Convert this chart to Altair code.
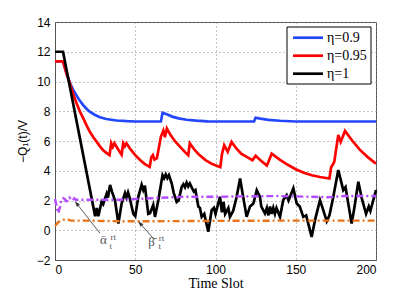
import altair as alt
import pandas as pd

series_names = ["η=0.9", "η=0.95", "η=1"]
series_colors = ["#2346ff", "#ff0000", "#000000"]

blue_t = [0, 5, 7, 9.3, 11.5, 13.5, 15.5, 17.7, 19.8, 21.8, 25, 28, 32, 38.4, 45, 50, 66, 67, 70, 73, 77, 82, 88, 95, 124, 125, 128, 133, 140, 150, 200]
blue_v = [11.35, 11.35, 10.6, 9.9, 9.4, 9.05, 8.7, 8.4, 8.15, 7.95, 7.75, 7.6, 7.48, 7.38, 7.33, 7.31, 7.31, 7.9, 7.78, 7.64, 7.52, 7.43, 7.37, 7.32, 7.31, 7.56, 7.5, 7.42, 7.36, 7.31, 7.31]

red_t = [0, 5, 7, 9.3, 11.5, 13.5, 15.5, 17.7, 19.8, 21.8, 24, 26, 28, 30, 32, 34, 35, 36, 37, 39, 41.5, 42.5, 43.5, 44.5, 47, 50, 53, 56, 59, 60, 61, 62, 63.5, 66, 67.5, 68.5, 69.7, 72, 75, 78, 81, 83, 84, 87, 90, 94, 98, 103, 104, 105.4, 107.6, 110, 113, 116, 120, 123, 124, 125, 128, 132, 133, 135, 140, 145, 150, 155, 160, 165, 171, 172, 173, 174, 176.5, 178, 180.7, 185, 190, 195, 200]
red_v = [11.35, 11.35, 10.6, 9.86, 9.1, 8.52, 7.98, 7.5, 7.02, 6.6, 6.24, 5.94, 5.64, 5.38, 5.2, 5.05, 5.85, 5.6, 5.85, 5.5, 5.08, 5.85, 5.65, 5.85, 5.45, 5.05, 4.72, 4.45, 4.26, 4.9, 5.05, 4.75, 4.85, 6.3, 6.7, 6.25, 6.84, 6.4, 5.95, 5.6, 5.25, 5.05, 5.85, 5.4, 5.05, 4.7, 4.45, 4.24, 5.1, 5.72, 5.27, 5.94, 5.5, 5.15, 4.9, 4.71, 4.85, 5.0, 4.7, 4.35, 4.6, 5.15, 4.75, 4.4, 4.1, 3.87, 3.7, 3.58, 3.48, 4.22, 4.4, 4.6, 6.4, 5.94, 6.68, 6.05, 5.4, 4.9, 4.48]

black_t = [0, 5, 25, 26, 27, 29, 30, 32.2, 33, 34.3, 35.5, 37.4, 39.5, 41.5, 43.6, 44.5, 45.5, 46.5, 48.8, 50, 51.9, 54, 55, 56, 58.1, 59.2, 61.2, 62.3, 64.4, 67, 68, 69, 70, 71, 72.7, 74, 75.8, 77, 78.9, 80, 81, 82, 83, 84, 85.1, 86.5, 87.5, 89.3, 90.3, 91.4, 93, 95.5, 97.6, 99, 100, 102.8, 104, 105, 106, 108, 109, 111, 113.2, 115.3, 117.3, 119.4, 121.5, 123.6, 125.7, 127.7, 128.5, 130.8, 132, 133, 134, 135, 136, 137, 138, 140.2, 142.2, 144.3, 145.5, 147, 148.5, 150.6, 152.5, 154.7, 156.5, 159.9, 162, 165.1, 167, 169.3, 171, 173.4, 176.5, 179.6, 181, 184.8, 186.5, 189, 191, 193.8, 195.5, 196.5, 198, 200]
black_v = [12, 12, 0.95, 1.5, 0.95, 1.9, 1.75, 2.47, 2.2, 3.05, 2.6, 2.0, 0.45, 1.8, 2.5, 2.2, 2.55, 2.2, 1.1, 0.95, 2.25, 3.05, 2.7, 3.0, 1.1, 1.15, 1.7, 0.9, 2.03, 3.7, 3.5, 3.75, 3.5, 3.7, 3.15, 2.5, 1.9, 2.0, 2.9, 3.1, 2.9, 3.2, 2.95, 3.15, 2.9, 2.6, 2.7, 1.6, 1.5, 0.9, 1.1, -0.1, 1.35, 1.5, 1.1, 2.25, 1.2, 1.9, 1.1, 1.5, 0.9, 1.3, 2.25, 3.48, 2.2, 0.9, 1.6, 1.8, 2.7, 2.25, 1.6, 1.13, 1.5, 1.0, 1.6, 1.1, 1.5, 1.1, 1.5, 0.9, 2.03, 2.36, 2.0, 2.4, 2.81, 1.8, 1.6, 0.9, 1.0, -0.45, 0.68, 2.03, 1.4, 0.6, 1.0, 2.25, 4.05, 2.7, 2.9, 0.45, 1.5, 3.26, 2.2, 1.1, 1.6, 1.3, 1.9, 2.7]

alpha_t = [0, 1, 2, 3, 4, 5, 6, 7, 8, 9, 10, 11, 12, 13, 15, 20, 30, 40, 50, 60, 70, 80, 100, 120, 140, 160, 170, 180, 200]
alpha_v = [2.1, 1.6, 1.15, 1.5, 2.05, 2.15, 2.1, 1.95, 2.0, 2.2, 2.1, 2.0, 2.15, 2.05, 2.05, 2.05, 2.05, 2.05, 2.1, 2.15, 2.2, 2.25, 2.25, 2.28, 2.3, 2.25, 2.22, 2.3, 2.3]

beta_t = [0, 1, 2, 3, 5, 8, 10, 20, 30, 50, 100, 150, 200]
beta_v = [0.3, 0.4, 0.55, 0.6, 0.7, 0.72, 0.65, 0.65, 0.62, 0.6, 0.63, 0.65, 0.65]

x_ticks = [0, 50, 100, 150, 200]
y_ticks = [-2, 0, 2, 4, 6, 8, 10, 12, 14]

# annotations: label glyph, t, v, size
ann_text = ["α\u0304", "rt", "t", "β\u0304", "rt", "t"]
ann_t = [30.1, 36.3, 34.8, 60.2, 66.4, 65.3]
ann_v = [-0.66, -0.44, -1.06, -0.77, -0.52, -1.09]
ann_size = [13, 9, 9, 13, 9, 9]

arrow_t = [28, 61.2]
arrow_v = [-0.2, -0.54]
arrow_t2 = [13.5, 53]
arrow_v2 = [1.8, 0.46]
arrow_angle = [322.5, 319]

frames = []
for name, tt, vv in [(series_names[0], blue_t, blue_v), (series_names[1], red_t, red_v), (series_names[2], black_t, black_v)]:
    frames.append(pd.DataFrame({"t": tt, "v": vv, "s": name}))
main = pd.concat(frames, ignore_index=True)
main["o"] = range(len(main))

alpha_df = pd.DataFrame({"t": alpha_t, "v": alpha_v})
beta_df = pd.DataFrame({"t": beta_t, "v": beta_v})
ann_df = pd.DataFrame({"txt": ann_text, "t": ann_t, "v": ann_v, "sz": ann_size})
arr_df = pd.DataFrame({"t": arrow_t, "v": arrow_v, "t2": arrow_t2, "v2": arrow_v2, "ang": arrow_angle})

xs = alt.Scale(domain=[0, 200], nice=False)
ys = alt.Scale(domain=[-2, 14], nice=False)

x_axis = alt.Axis(values=x_ticks, title="Time Slot", titleFont="Liberation Serif",
                  titleFontSize=14, titleFontWeight="normal", titlePadding=1,
                  labelFont="Liberation Sans", labelFontSize=12, labelPadding=4,
                  labelOverlap=False, grid=True, gridDash=[1, 3], gridColor="#888", tickSize=0,
                  domainColor="#555", labelColor="#000")
y_axis = alt.Axis(values=y_ticks, title="−Q₁(t)/V", titleFont="Liberation Sans",
                  titleFontSize=12, titleFontWeight="normal", titleX=-33, titleY=119,
                  titleAngle=270, titleAlign="center", titleBaseline="middle",
                  labelFont="Liberation Sans", labelFontSize=12, labelPadding=5,
                  labelOverlap=False, grid=True, gridDash=[1, 3], gridColor="#888", tickSize=0,
                  domainColor="#555", labelColor="#000")

X = lambda f: alt.X(f, scale=xs, axis=x_axis)
Y = lambda f: alt.Y(f, scale=ys, axis=y_axis)

lines = alt.Chart(main).mark_line(strokeWidth=2.7).encode(
    x=X("t:Q"), y=Y("v:Q"),
    color=alt.Color("s:N", scale=alt.Scale(domain=series_names, range=series_colors), legend=None),
    order="o:Q",
)

alpha_line = alt.Chart(alpha_df).mark_line(strokeWidth=2.4, color="#b44cff", strokeDash=[7, 3, 2, 3]).encode(
    x=X("t:Q"), y=Y("v:Q"))
beta_line = alt.Chart(beta_df).mark_line(strokeWidth=2.4, color="#e8741c", strokeDash=[7, 3, 2, 3]).encode(
    x=X("t:Q"), y=Y("v:Q"))

arrows = alt.Chart(arr_df).mark_rule(strokeWidth=0.8, color="#333").encode(
    x=X("t:Q"), y=Y("v:Q"), x2="t2:Q", y2="v2:Q")
heads = alt.Chart(arr_df).mark_point(shape="M-0.6,0.9L0,-0.9L0.6,0.9Z", filled=True, size=40, color="#333", opacity=1).encode(
    x=X("t2:Q"), y=Y("v2:Q"), angle=alt.Angle("ang:Q", scale=None))

ann = alt.Chart(ann_df).mark_text(font="Liberation Serif", color="#555", align="center", baseline="middle").encode(
    x=X("t:Q"), y=Y("v:Q"), text="txt:N", size=alt.Size("sz:Q", scale=None))

# manual legend box (plot-relative pixels)
leg_layers = []
box_df = pd.DataFrame({"k": [0]})
leg_layers.append(alt.Chart(box_df).mark_rect(fill="white", stroke="black", strokeWidth=1).encode(
    x=alt.value(232), x2=alt.value(316), y=alt.value(5), y2=alt.value(62)))
for i, (name, col) in enumerate(zip(series_names, series_colors)):
    yy = 15.7 + 18 * i
    leg_layers.append(alt.Chart(box_df).mark_rule(strokeWidth=2.7, color=col).encode(
        x=alt.value(238), x2=alt.value(268), y=alt.value(yy)))
    leg_layers.append(alt.Chart(box_df).mark_text(text=name, font="Liberation Serif", fontSize=14, align="left",
                                                  baseline="middle", color="black").encode(
        x=alt.value(272), y=alt.value(yy)))

chart = alt.layer(lines, alpha_line, beta_line, arrows, heads, ann, *leg_layers).properties(
    width=321, height=238, autosize="none",
    padding={"left": 47, "top": 14, "right": 31, "bottom": 34},
).configure_view(stroke="#555", strokeWidth=1).configure_axis(labelOverlap=False)

chart.save("out.html", embed_options={"renderer": "svg", "actions": False})
